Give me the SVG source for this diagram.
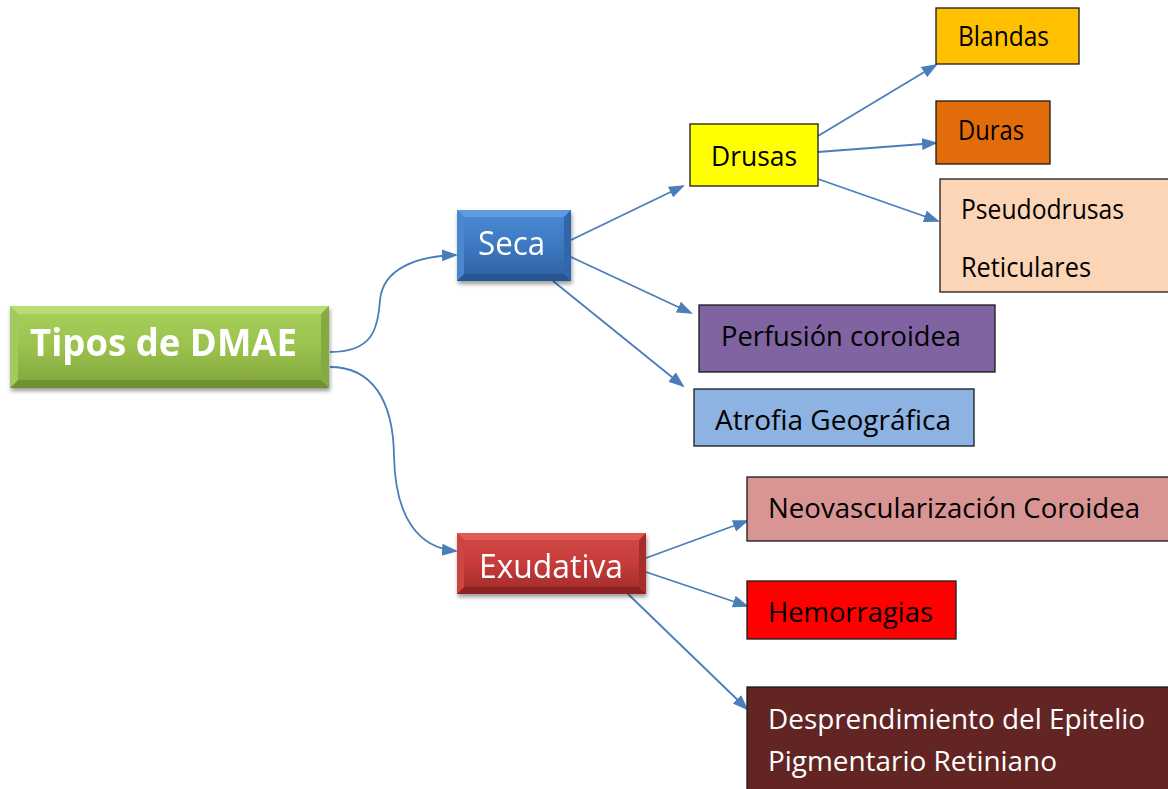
<svg xmlns="http://www.w3.org/2000/svg" width="1168" height="789" viewBox="0 0 1168 789">
<style>
.t{font-family:"Open Sans","Liberation Sans",sans-serif;}
.s{font-size:27.5px;fill:#000;}
.w{fill:#fff;}
.box{stroke:#1a1a1a;stroke-width:1.3;}
.c{fill:none;stroke:#4A7EBB;stroke-width:1.8;}
</style>
<defs>
<marker id="ah" markerWidth="16" markerHeight="14" refX="14" refY="6" orient="auto" markerUnits="userSpaceOnUse" viewBox="0 0 16 12">
<path d="M0,0 L16,6 L0,12 Z" fill="#4A7EBB"/>
</marker>
<linearGradient id="gG" x1="0" y1="0" x2="0" y2="1"><stop offset="0" stop-color="#A9D05A"/><stop offset="0.5" stop-color="#9BC24E"/><stop offset="1" stop-color="#7FA33A"/></linearGradient>
<linearGradient id="gB" x1="0" y1="0" x2="0" y2="1"><stop offset="0" stop-color="#4A8BD6"/><stop offset="0.5" stop-color="#3D78C2"/><stop offset="1" stop-color="#2E5F9E"/></linearGradient>
<linearGradient id="gR" x1="0" y1="0" x2="0" y2="1"><stop offset="0" stop-color="#D44A47"/><stop offset="0.5" stop-color="#C63C3A"/><stop offset="1" stop-color="#9E2A28"/></linearGradient>
<filter id="sh" x="-10%" y="-10%" width="125%" height="140%"><feGaussianBlur in="SourceAlpha" stdDeviation="2"/><feOffset dx="1" dy="3"/><feComponentTransfer><feFuncA type="linear" slope="0.4"/></feComponentTransfer><feMerge><feMergeNode/><feMergeNode in="SourceGraphic"/></feMerge></filter>
</defs>

<g id="connectors">
<path class="c" d="M330,352 C372,352 378,330 380,300 C383,268 418,256 456,255" marker-end="url(#ah)"/>
<path class="c" d="M330,367 C372,367 393,400 394,455 C395,520 420,548 456,551" marker-end="url(#ah)"/>
<path class="c" d="M571,240 L683,186" marker-end="url(#ah)"/>
<path class="c" d="M571,257 L691,313" marker-end="url(#ah)"/>
<path class="c" d="M553,281 L683,386" marker-end="url(#ah)"/>
<path class="c" d="M818,136 L936,65" marker-end="url(#ah)"/>
<path class="c" d="M818,152 L936,143" marker-end="url(#ah)"/>
<path class="c" d="M818,179 L938,221" marker-end="url(#ah)"/>
<path class="c" d="M646,558 L747,521" marker-end="url(#ah)"/>
<path class="c" d="M646,572 L747,606" marker-end="url(#ah)"/>
<path class="c" d="M628,594 L747,709" marker-end="url(#ah)"/>
</g>

<g id="main" filter="url(#sh)">
<rect x="10" y="306" width="319" height="82" fill="url(#gG)"/>
<polygon points="10,306 329,306 321,314 18,314" fill="#B9DC73"/>
<polygon points="10,388 329,388 321,380 18,380" fill="#6F9130"/>
<polygon points="10,306 18,314 18,380 10,388" fill="#A3C960"/>
<polygon points="329,306 321,314 321,380 329,388" fill="#85AA40"/>
<text class="t w" x="30" y="356" font-size="37" font-weight="bold" textLength="267" lengthAdjust="spacingAndGlyphs">Tipos de DMAE</text>
</g>

<g id="seca" filter="url(#sh)">
<rect x="457" y="210" width="114" height="71" fill="url(#gB)"/>
<polygon points="457,210 571,210 564,217 464,217" fill="#5B9BE0"/>
<polygon points="457,281 571,281 564,274 464,274" fill="#27558F"/>
<polygon points="457,210 464,217 464,274 457,281" fill="#4886CF"/>
<polygon points="571,210 564,217 564,274 571,281" fill="#3066AA"/>
<text class="t w" x="478" y="255" font-size="32" textLength="67" lengthAdjust="spacingAndGlyphs">Seca</text>
</g>

<g id="exudativa" filter="url(#sh)">
<rect x="457" y="533" width="189" height="61" fill="url(#gR)"/>
<polygon points="457,533 646,533 639,540 464,540" fill="#E05A57"/>
<polygon points="457,594 646,594 639,587 464,587" fill="#8E2422"/>
<polygon points="457,533 464,540 464,587 457,594" fill="#CC4441"/>
<polygon points="646,533 639,540 639,587 646,594" fill="#A52E2C"/>
<text class="t w" x="479" y="578" font-size="32" textLength="144" lengthAdjust="spacingAndGlyphs">Exudativa</text>
</g>

<g id="drusas">
<rect class="box" x="690" y="124" width="128" height="62" fill="#FFFF00"/>
<text class="t s" x="711" y="166" textLength="86" lengthAdjust="spacingAndGlyphs">Drusas</text>
</g>

<g id="blandas">
<rect class="box" x="936" y="8" width="143" height="56" fill="#FFC000"/>
<text class="t s" x="958" y="46" textLength="91" lengthAdjust="spacingAndGlyphs">Blandas</text>
</g>

<g id="duras">
<rect class="box" x="936" y="101" width="114" height="63" fill="#E36C0A"/>
<text class="t s" x="958" y="140" textLength="66" lengthAdjust="spacingAndGlyphs">Duras</text>
</g>

<g id="pseudodrusas">
<rect class="box" x="940" y="179" width="230" height="113" fill="#FBD5B5"/>
<text class="t s" x="961" y="219" textLength="163" lengthAdjust="spacingAndGlyphs">Pseudodrusas</text>
<text class="t s" x="961" y="277" textLength="130" lengthAdjust="spacingAndGlyphs">Reticulares</text>
</g>

<g id="perfusion">
<rect class="box" x="699" y="305" width="296" height="67" fill="#8064A2"/>
<text class="t s" x="721" y="346" textLength="240" lengthAdjust="spacingAndGlyphs">Perfusión coroidea</text>
</g>

<g id="atrofia">
<rect class="box" x="694" y="389" width="280" height="57" fill="#8DB3E2"/>
<text class="t s" x="715" y="430" textLength="236" lengthAdjust="spacingAndGlyphs">Atrofia Geográfica</text>
</g>

<g id="neovascularizacion">
<rect class="box" x="747" y="477" width="423" height="64" fill="#D99594"/>
<text class="t s" x="768" y="518" textLength="372" lengthAdjust="spacingAndGlyphs">Neovascularización Coroidea</text>
</g>

<g id="hemorragias">
<rect class="box" x="747" y="581" width="209" height="58" fill="#FF0000"/>
<text class="t s" x="768" y="622" textLength="165" lengthAdjust="spacingAndGlyphs">Hemorragias</text>
</g>

<g id="desprendimiento">
<rect class="box" x="747" y="687" width="423" height="105" fill="#632523"/>
<text class="t s w" x="768" y="729" textLength="377" lengthAdjust="spacingAndGlyphs">Desprendimiento del Epitelio</text>
<text class="t s w" x="768" y="771" textLength="289" lengthAdjust="spacingAndGlyphs">Pigmentario Retiniano</text>
</g>
</svg>
